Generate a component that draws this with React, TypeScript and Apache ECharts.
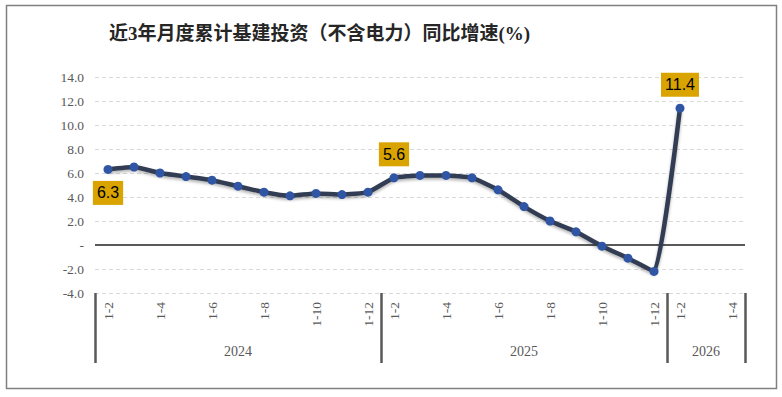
import React, { useEffect, useRef } from "react";
import * as echarts from "echarts";

const titleText = "近3年月度累计基建投资（不含电力）同比增速(%)";
const years = ["2024", "2025", "2026"];
const months2024 = ["1-2", "1-3", "1-4", "1-5", "1-6", "1-7", "1-8", "1-9", "1-10", "1-11", "1-12"];
const months2025 = ["1-2", "1-3", "1-4", "1-5", "1-6", "1-7", "1-8", "1-9", "1-10", "1-11", "1-12"];
const months2026 = ["1-2", "1-3", "1-4"];
const values2024 = [6.3, 6.5, 6.0, 5.7, 5.4, 4.9, 4.4, 4.1, 4.3, 4.2, 4.4];
const values2025 = [5.6, 5.8, 5.8, 5.6, 4.6, 3.2, 2.0, 1.1, -0.1, -1.1, -2.2];
const values2026: (number | null)[] = [11.4, null, null];
// annotated points: [index in combined series, label position]
const annotated: [number, string][] = [
  [0, "bottom"],
  [11, "top"],
  [22, "top"],
];
const yMin = -4;
const yMax = 14;
const yStep = 2;

const groups = [months2024, months2025, months2026];
const categories: string[] = [];
const categoryYear: string[] = [];
groups.forEach((g, gi) => {
  g.forEach((m) => {
    categories.push(m);
    categoryYear.push(years[gi]);
  });
});
const values: (number | null)[] = [...values2024, ...values2025, ...values2026];

// first index of each year group, and middle index of each group
const groupStarts: number[] = [];
const groupMiddles: number[] = [];
{
  let s = 0;
  groups.forEach((g) => {
    groupStarts.push(s);
    groupMiddles.push(s + Math.floor(g.length / 2));
    s += g.length;
  });
}

const serif = "'Liberation Serif', 'Times New Roman', 'Noto Sans CJK SC', serif";
const axisGray = "#595959";

export default function App() {
  const ref = useRef<HTMLDivElement>(null);
  useEffect(() => {
    if (!ref.current) return;
    const chart = echarts.init(ref.current, undefined, { renderer: "svg" });
    const seriesData = values.map((v, i) => {
      const a = annotated.find((x) => x[0] === i);
      if (!a || v === null) return v;
      return {
        value: v,
        label: {
          show: true,
          position: a[1],
          distance: 7,
          formatter: (p: any) => Number(p.value).toFixed(1),
          color: "#000",
          fontFamily: "'Liberation Sans', Arial, sans-serif",
          fontSize: 16,
          lineHeight: 16,
          backgroundColor: "#D9A400",
          padding: [4, 4, 4, 4],
        },
      };
    });
    chart.setOption({
      animation: false,
      backgroundColor: "#fff",
      title: {
        text: titleText,
        left: 104,
        top: 19,
        textStyle: {
          fontFamily: serif,
          fontSize: 19,
          fontWeight: "bold",
          color: "#262626",
        },
      },
      graphic: [
        {
          type: "rect",
          shape: { x: 6.5, y: 5.5, width: 770, height: 383 },
          style: { fill: "none", stroke: "#808080", lineWidth: 1.5 },
          silent: true,
        },
      ],
      grid: { left: 95, right: 37, top: 77, bottom: 104, containLabel: false },
      xAxis: [
        {
          type: "category",
          position: "bottom",
          data: categories,
          boundaryGap: true,
          axisLine: { show: false, onZero: false },
          axisTick: {
            show: true,
            length: 70,
            interval: (idx: number) => groupStarts.includes(idx),
            lineStyle: { color: axisGray, width: 2.5 },
          },
          axisLabel: {
            rotate: 90,
            margin: 9,
            interval: (idx: number, val: string) => {
              const m = parseInt(val.split("-")[1], 10);
              return m % 2 === 0;
            },
            fontFamily: serif,
            fontSize: 13.5,
            color: axisGray,
          },
          splitLine: { show: false },
        },
        {
          type: "category",
          position: "bottom",
          data: categories,
          boundaryGap: true,
          axisLine: { show: false, onZero: false },
          axisTick: { show: false },
          axisLabel: {
            margin: 51,
            interval: (idx: number) => groupMiddles.includes(idx),
            formatter: (_v: string, idx: number) => categoryYear[idx],
            fontFamily: serif,
            fontSize: 14,
            color: axisGray,
          },
        },
      ],
      yAxis: {
        type: "value",
        min: yMin,
        max: yMax,
        interval: yStep,
        axisLine: { show: false },
        axisTick: { show: false },
        axisLabel: {
          margin: 11,
          fontFamily: serif,
          fontSize: 13.5,
          color: axisGray,
          formatter: (v: number) => (v === 0 ? "-" : v.toFixed(1)),
        },
        splitLine: {
          show: true,
          lineStyle: { color: "#d9d9d9", type: [4, 3], width: 1 },
        },
      },
      series: [
        {
          type: "line",
          xAxisIndex: 0,
          data: seriesData,
          smooth: 0.15,
          connectNulls: false,
          symbol: "circle",
          symbolSize: 9,
          z: 3,
          lineStyle: {
            color: "#323E53",
            width: 4.5,
            shadowColor: "rgba(0,0,0,0.3)",
            shadowBlur: 3,
            shadowOffsetY: 2,
          },
          itemStyle: { color: "#2F55A4" },
          markLine: {
            silent: true,
            z: 1,
            symbol: ["none", "none"],
            label: { show: false },
            lineStyle: { color: axisGray, width: 2, type: "solid" },
            data: [{ yAxis: 0 }],
          },
        },
      ],
    });
    return () => chart.dispose();
  }, []);
  return (
    <div
      ref={ref}
      style={{ position: "fixed", left: 0, top: 0, width: 782, height: 397 }}
    />
  );
}
